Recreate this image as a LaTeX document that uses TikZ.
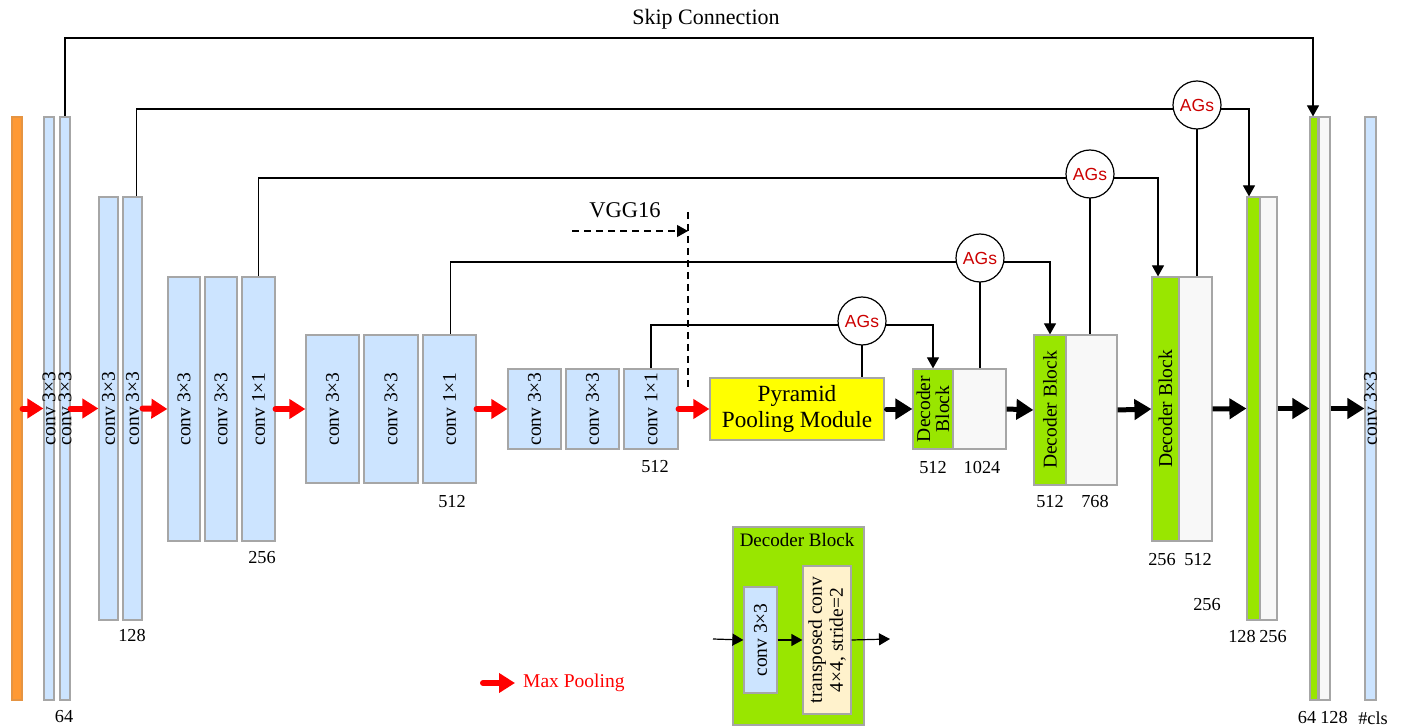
\documentclass[tikz,border=0pt]{standalone}
\usepackage{fontspec}
\setmainfont{Liberation Serif}
\newfontfamily\agfont{Liberation Sans}
\usetikzlibrary{arrows.meta,backgrounds}
\definecolor{convblue}{RGB}{204,228,255}
\definecolor{bordergray}{RGB}{166,166,166}
\definecolor{inorange}{RGB}{255,153,51}
\definecolor{decgreen}{RGB}{153,230,0}
\definecolor{catwhite}{RGB}{248,248,248}
\definecolor{ppmyellow}{RGB}{255,255,0}
\definecolor{tcream}{RGB}{255,242,204}
\definecolor{agred}{RGB}{204,0,0}
\definecolor{poolred}{RGB}{255,0,0}
\newcommand\mybar[6]{\node[#1,minimum width={(#5)-(#3)},minimum height={(#6)-(#4)}] (#2) at ({((#3)+(#5))/2},{((#4)+(#6))/2}) {};}
\tikzset{
  box/.style={rectangle,draw=bordergray,line width=1.2pt,inner sep=0pt},
  bluebox/.style={box,fill=convblue},
  orangebox/.style={box,draw=inorange!80!gray,fill=inorange},
  greenbox/.style={box,fill=decgreen},
  whitebox/.style={box,fill=catwhite},
  yellowbox/.style={box,fill=ppmyellow},
  creambox/.style={box,fill=tcream},
  rottext/.style={rotate=90,font=\fontsize{19.5}{20}\selectfont,inner sep=0pt,align=center},
  lbl/.style={font=\fontsize{18.3}{19}\selectfont,inner sep=0pt},
  bigtext/.style={font=\fontsize{23.2}{26}\selectfont,inner sep=0pt,align=center},
  agnode/.style={circle,draw=black,line width=1.2pt,fill=white,minimum size=48pt,inner sep=0pt,font=\agfont\fontsize{17.5}{18}\selectfont,text=agred},
  conn/.style={line width=1.2pt,draw=black},
  ctip/.style={-{Triangle[length=11pt,width=12pt]}},
  redarr/.style={draw=poolred,line width=6pt,line cap=round,-{Triangle[length=16pt,width=19pt]}},
  blkarr/.style={draw=black,line width=5pt,-{Triangle[length=17pt,width=20pt]}},
}
\begin{document}
\begin{tikzpicture}[x=1pt,y=-1pt]
\useasboundingbox (0,0) rectangle (1401,727);
% encoder
\mybar{orangebox}{inp}{12}{117}{22}{700}
\mybar{bluebox}{a1}{44}{117}{54}{700}
\mybar{bluebox}{a2}{60}{117}{70}{700}
\mybar{bluebox}{c1}{99}{197}{118}{620}
\mybar{bluebox}{c2}{123}{197}{142}{620}
\mybar{bluebox}{d1}{168}{277}{200}{541}
\mybar{bluebox}{d2}{205}{277}{237}{541}
\mybar{bluebox}{d3}{242}{277}{275}{541}
\mybar{bluebox}{e1}{306}{335}{359}{483}
\mybar{bluebox}{e2}{364}{335}{418}{483}
\mybar{bluebox}{e3}{423}{335}{476}{483}
\mybar{bluebox}{f1}{508}{369}{561}{449}
\mybar{bluebox}{f2}{566}{369}{619}{449}
\mybar{bluebox}{f3}{624}{369}{678}{449}
\node[rottext] (a1t) at (a1.center) {conv 3×3};
\node[rottext] (a2t) at (a2.center) {conv 3×3};
\node[rottext] (c1t) at (c1.center) {conv 3×3};
\node[rottext] (c2t) at (c2.center) {conv 3×3};
\node[rottext] (d1t) at (d1.center) {conv 3×3};
\node[rottext] (d2t) at (d2.center) {conv 3×3};
\node[rottext] (d3t) at (d3.center) {conv 1×1};
\node[rottext] (e1t) at (e1.center) {conv 3×3};
\node[rottext] (e2t) at (e2.center) {conv 3×3};
\node[rottext] (e3t) at (e3.center) {conv 1×1};
\node[rottext] (f1t) at (f1.center) {conv 3×3};
\node[rottext] (f2t) at (f2.center) {conv 3×3};
\node[rottext] (f3t) at (f3.center) {conv 1×1};
% ppm
\mybar{yellowbox}{ppm}{710}{378}{884}{440}
\node[bigtext] (ppmt) at (ppm.center) {Pyramid\\Pooling Module};
% decoder
\mybar{greenbox}{g1}{913}{369}{953}{449}
\mybar{whitebox}{w1}{953}{369}{1006}{449}
\mybar{greenbox}{g2}{1034}{335}{1066}{485}
\mybar{whitebox}{w2}{1066}{335}{1117}{485}
\mybar{greenbox}{g3}{1152}{277}{1179}{541}
\mybar{whitebox}{w3}{1179}{277}{1212}{541}
\mybar{greenbox}{g4}{1247}{197}{1260}{620}
\mybar{whitebox}{w4}{1260}{197}{1277}{620}
\mybar{greenbox}{g5}{1310}{117}{1318}{700}
\mybar{whitebox}{w5}{1319}{117}{1330}{700}
\mybar{bluebox}{cls}{1365}{117}{1376}{700}
\node[rottext,font=\fontsize{19.5}{19}\selectfont] (g1t) at (g1.center) {Decoder\\Block};
\node[rottext] (g2t) at (g2.center) {Decoder Block};
\node[rottext] (g3t) at (g3.center) {Decoder Block};
\node[rottext] (clst) at (cls.center) {conv 3×3};
% labels
\node[lbl] (l64) at (64,717) {64};
\node[lbl] (l128) at (132,636) {128};
\node[lbl] (l256) at (262,558) {256};
\node[lbl] (l512a) at (452,502) {512};
\node[lbl] (l512b) at (655,467) {512};
\node[lbl] (l512c) at (933,468) {512};
\node[lbl] (l1024) at (982,468) {1024};
\node[lbl] (l512d) at (1050,502) {512};
\node[lbl] (l768) at (1095,502) {768};
\node[lbl] (l256b) at (1162,560) {256};
\node[lbl] (l512e) at (1198,560) {512};
\node[lbl] (l256c) at (1207,605) {256};
\node[lbl] (l128b) at (1242,637) {128};
\node[lbl] (l256d) at (1273,637) {256};
\node[lbl] (l64b) at (1307,718) {64};
\node[lbl] (l128c) at (1334,718) {128};
\node[lbl] (lcls) at (1373,718) {\#cls};
% AGs
\node[agnode] (ag1) at (862,321) {AGs};
\node[agnode] (ag2) at (980,258) {AGs};
\node[agnode] (ag3) at (1090,174) {AGs};
\node[agnode] (ag4) at (1197,105) {AGs};
% titles
\node[bigtext,font=\fontsize{22}{24}\selectfont] (skipt) at (706,19) {Skip Connection};
\node[bigtext,font=\fontsize{22.5}{24}\selectfont] (vggt) at (625,210) {VGG16};
\coordinate (skiptop) at (700,38);
\coordinate (vggA) at (572,231);
\coordinate (vggB) at (688,231);
\coordinate (vggT) at (688,212);
\coordinate (vggD) at (688,390);
% inset decoder block
\mybar{greenbox}{ib}{733}{527}{864}{725}
\node[lbl,font=\fontsize{19}{19}\selectfont] (ibt) at (797,540) {Decoder Block};
\mybar{bluebox}{ic}{744}{587}{777}{693}
\mybar{creambox}{it}{803}{566}{851}{714}
\node[rottext] (ict) at (ic.center) {conv 3×3};
\node[rottext,font=\fontsize{19.5}{21}\selectfont] (itt) at (it.center) {transposed conv\\4×4, stride=2};
\coordinate (iin) at (713,639);
\coordinate (iout) at (890,639);
% legend
\coordinate (mpA) at (483,683);
\coordinate (mpB) at (515,683);
\node[lbl,font=\fontsize{19.5}{20}\selectfont,text=poolred,anchor=west] (mpt) at (523,683) {Max Pooling};
\begin{scope}[on background layer]
  \draw[conn,ctip] (a2.north) |- (skiptop) -| ([xshift=-1pt]g5.north);
  \draw[conn] ([xshift=4pt]c2.north) |- ([yshift=-4pt]ag4.center);
  \draw[conn] (d3.north) |- ([yshift=-4pt]ag3.center);
  \draw[conn] ([xshift=1pt]e3.north) |- ([yshift=-4pt]ag2.center);
  \draw[conn] (f3.north) |- ([yshift=-4pt]ag1.center);
  \draw[conn,ctip] ([yshift=-4pt]ag1.center) -| (g1.north);
  \draw[conn,ctip] ([yshift=-4pt]ag2.center) -| (g2.north);
  \draw[conn,ctip] ([yshift=-4pt]ag3.center) -| ([xshift=-7.5pt]g3.north);
  \draw[conn,ctip] ([yshift=-4pt]ag4.center) -| ([xshift=-4.5pt]g4.north);
  \draw[conn] (ag1.center) -- (ag1.center |- ppm.north);
  \draw[conn] (ag2.center) -- (ag2.center |- w1.north);
  \draw[conn] (ag3.center) -- (ag3.center |- w2.north);
  \draw[conn] (ag4.center) -- (ag4.center |- w3.north);
\end{scope}
\draw[conn,dash pattern=on 7pt off 5pt,ctip] (vggA) -- (vggB);
\draw[conn,dash pattern=on 7pt off 5pt] (vggT) -- (vggD);
% pooling arrows
\draw[redarr] (inp.east) -- (a1.west);
\draw[redarr] (a2.east) -- (c1.west);
\draw[redarr] (c2.east) -- (d1.west);
\draw[redarr] (d3.east) -- (e1.west);
\draw[redarr] (e3.east) -- (f1.west);
\draw[redarr] (f3.east) -- (ppm.west);
\draw[redarr] (mpA) -- (mpB);
% decoder arrows
\draw[blkarr,line cap=round] ([xshift=2pt]ppm.east) -- (g1.west);
\draw[blkarr] (w1.east) -- (g2.west);
\draw[blkarr] (w2.east) -- (g3.west);
\draw[blkarr] (w3.east) -- (g4.west);
\draw[blkarr] (w4.east) -- (g5.west);
\draw[blkarr] (w5.east) -- (cls.west);
% inset arrows
\draw[conn,ctip] (iin) -- (ic.west);
\draw[conn,ctip] (ic.east) -- (it.west);
\draw[conn,ctip] (it.east) -- (iout);
\end{tikzpicture}
\end{document}
